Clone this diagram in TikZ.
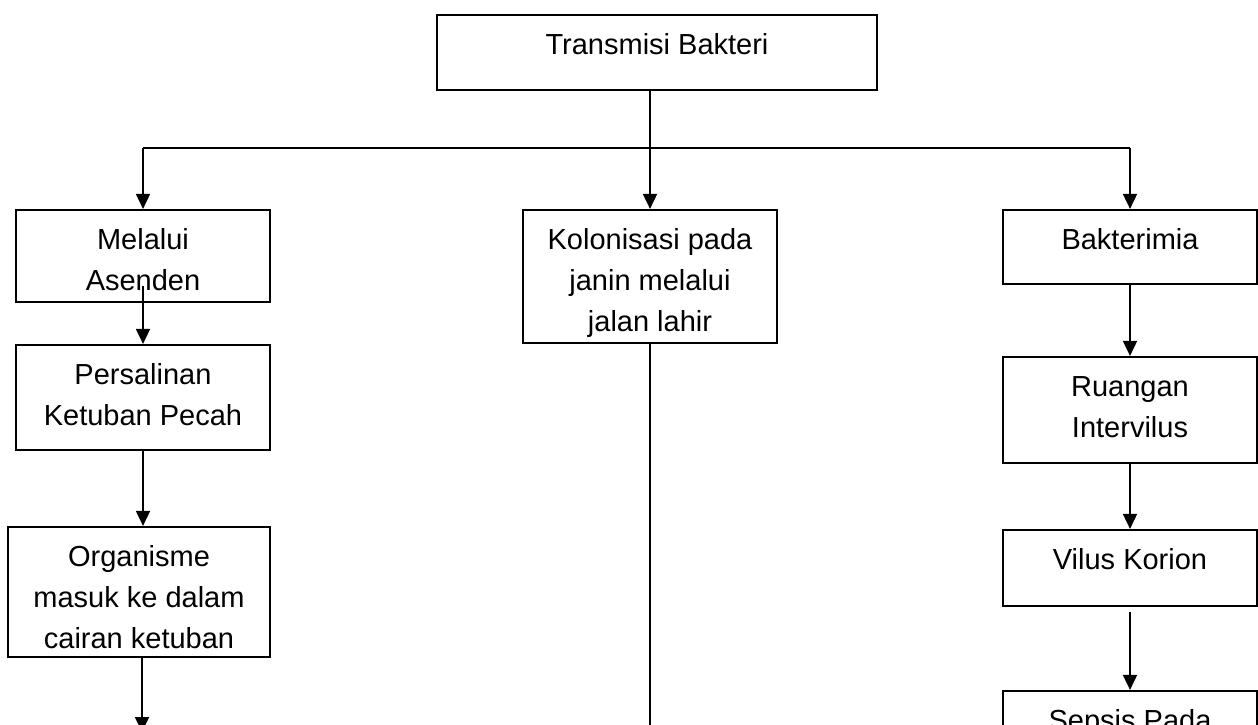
\documentclass[tikz,border=0pt]{standalone}
\usepackage{fontspec}
\setmainfont{Liberation Sans}
\usetikzlibrary{arrows.meta}

\newcommand{\boxtext}[3]{\parbox[c][#2][t]{#1}{\centering\rule{0pt}{19.5pt}#3}}

\begin{document}
\begin{tikzpicture}[
    x=0.5pt, y=-0.5pt,
    font=\fontsize{14.5pt}{20.5pt}\selectfont,
    >={Triangle[length=7.5pt,width=7pt]},
    flowbox/.style={
        draw,
        line width=1.1pt,
        inner sep=0pt
    },
    link/.style={
        line width=0.9pt
    }
]
\useasboundingbox (0,0) rectangle (1258,724);
\clip (0,0) rectangle (1258,724);

\node[flowbox] (transmisi) at (657,52.5) {\boxtext{220pt}{37.5pt}{Transmisi Bakteri}};

\node[flowbox] (melalui) at (143,256) {\boxtext{127pt}{46pt}{Melalui\\Asenden}};
\node[flowbox] (persalinan) at (143,397.5) {\boxtext{127pt}{52.5pt}{Persalinan\\Ketuban Pecah}};
\node[flowbox] (organisme) at (139,592) {\boxtext{131pt}{65pt}{Organisme\\masuk ke dalam\\cairan ketuban}};

\node[flowbox] (kolonisasi) at (650,276.5) {\boxtext{127pt}{66.5pt}{Kolonisasi pada\\janin melalui\\jalan lahir}};

\node[flowbox] (bakterimia) at (1130,247) {\boxtext{127pt}{37pt}{Bakterimia}};
\node[flowbox] (ruangan) at (1130,410) {\boxtext{127pt}{53pt}{Ruangan\\Intervilus}};
\node[flowbox] (vilus) at (1130,568) {\boxtext{127pt}{38pt}{Vilus Korion}};
\node[flowbox] (sepsis) at (1130,746) {\boxtext{127pt}{55pt}{Sepsis Pada}};

% branches
\coordinate (bar) at (650,148);
\draw[link, ->] (transmisi.south -| kolonisasi.north) -- (kolonisasi.north);
\draw[link] (melalui.north |- bar) -- (bakterimia.north |- bar);
\draw[link, ->] (melalui.north |- bar) -- (melalui.north);
\draw[link, ->] (bakterimia.north |- bar) -- (bakterimia.north);

% left column
\coordinate (endL) at (142,732);
\draw[link, ->] ([yshift=8.5pt]melalui.south) -- (persalinan.north);
\draw[link, ->] (persalinan.south) -- (persalinan.south |- organisme.north);
\draw[link, ->] (organisme.south -| endL) -- (endL);

% middle column
\coordinate (endM) at (650,740);
\draw[link] (kolonisasi.south) -- (kolonisasi.south |- endM);

% right column
\draw[link, ->] (bakterimia.south) -- (ruangan.north);
\draw[link, ->] (ruangan.south) -- (vilus.north);
\draw[link, ->] ([yshift=-2.5pt]vilus.south) -- (sepsis.north);

\end{tikzpicture}
\end{document}
